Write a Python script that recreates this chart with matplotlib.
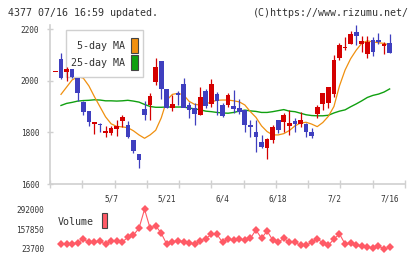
import numpy as np
import pandas as pd
import matplotlib
matplotlib.use("Agg")
import matplotlib.pyplot as plt
from matplotlib.patches import Rectangle

# ---------------- data ----------------
# trading days (index -1 .. 59)
holidays = ["2025-04-29", "2025-05-05", "2025-05-06"]
days = [d for d in pd.bdate_range("2025-04-18", "2025-07-16") if d.strftime("%Y-%m-%d") not in holidays]
date_labels = ["5/7", "5/21", "6/4", "6/18", "7/2", "7/16"]

opens = [2035, 2083, 2034, 2046, 2009, 1919, 1883, 1834, 1834, 1796, 1799,
         1814, 1845, 1828, 1770, 1715, 1890, 1906, 1996, 2077, 1966,
         1893, 1953, 1986, 1906, 1893, 1867, 1961, 1910, 1948, 1906,
         1906, 1903, 1893, 1886, 1828, 1800, 1764, 1741, 1770, 1848,
         1841, 1826, 1844, 1832, 1832, 1803, 1870, 1910, 1912, 1948,
         2089, 2125, 2142, 2188, 2141, 2102, 2157, 2157, 2133, 2144]
highs = [2035, 2106, 2052, 2046, 2009, 1923, 1884, 1840, 1836, 1824, 1825,
         1848, 1867, 1844, 1770, 1716, 1921, 1951, 2086, 2077, 1968,
         1945, 1960, 2009, 1916, 1912, 1977, 1968, 2006, 1957, 1912,
         1954, 1964, 1929, 1886, 1848, 1848, 1790, 1779, 1828, 1848,
         1874, 1886, 1857, 1877, 1835, 1818, 1906, 1954, 1977, 2099,
         2144, 2168, 2192, 2215, 2174, 2173, 2170, 2183, 2148, 2179]
lows = [2035, 2006, 2000, 2009, 1921, 1867, 1826, 1792, 1800, 1782, 1790,
        1784, 1822, 1779, 1721, 1663, 1848, 1848, 1983, 1929, 1893,
        1884, 1905, 1899, 1857, 1828, 1867, 1895, 1899, 1867, 1861,
        1899, 1874, 1870, 1803, 1783, 1725, 1741, 1697, 1757, 1796,
        1803, 1790, 1803, 1822, 1783, 1777, 1854, 1886, 1895, 1938,
        2080, 2119, 2142, 2140, 2112, 2089, 2097, 2141, 2102, 2108]
closes = [2035, 2012, 2044, 2015, 1954, 1877, 1841, 1839, 1828, 1805, 1817,
          1826, 1859, 1783, 1728, 1693, 1867, 1941, 2052, 1966, 1895,
          1910, 1946, 1895, 1886, 1871, 1938, 1903, 1987, 1921, 1865,
          1945, 1890, 1880, 1828, 1822, 1783, 1745, 1774, 1819, 1809,
          1867, 1837, 1832, 1848, 1800, 1787, 1899, 1954, 1977, 2080,
          2138, 2130, 2179, 2174, 2154, 2151, 2112, 2148, 2142, 2108]

# moving averages (index 0 .. 59)
ma5 = [1947, 1975, 2003, 2015, 2010, 1980, 1938, 1899, 1860, 1833,
       1823, 1821, 1818, 1806, 1790, 1777, 1790, 1808, 1856, 1925,
       1947, 1951, 1945, 1920, 1908, 1906, 1910, 1918, 1924, 1925,
       1925, 1922, 1918, 1906, 1880, 1858, 1825, 1803, 1790, 1790,
       1795, 1807, 1825, 1836, 1839, 1832, 1822, 1838, 1862, 1900,
       1980, 2041, 2085, 2118, 2145, 2154, 2150, 2147, 2144, 2138]
ma25 = [1904, 1912, 1916, 1921, 1923, 1924, 1926, 1925, 1922, 1922,
        1921, 1922, 1924, 1921, 1917, 1908, 1900, 1897, 1897, 1898,
        1898, 1898, 1898, 1894, 1891, 1887, 1882, 1880, 1877, 1875,
        1874, 1877, 1882, 1886, 1883, 1881, 1877, 1877, 1880, 1884,
        1888, 1882, 1880, 1874, 1868, 1865, 1864, 1864, 1866, 1875,
        1882, 1887, 1899, 1910, 1922, 1935, 1943, 1948, 1956, 1968]

volume = [55000, 57500, 57500, 66500, 89000, 68800, 71000, 75600, 55300, 80000,
          75600, 71000, 102600, 118400, 163500, 292000, 163500, 181500, 129700, 55300,
          71000, 80000, 73300, 66500, 57500, 80000, 93600, 122900, 122900, 68800,
          90000, 84600, 89000, 84600, 95900, 152200, 95900, 145500, 84600, 68800,
          95900, 68800, 68800, 48500, 48500, 68800, 91400, 66500, 48500, 91400,
          125200, 57500, 62000, 48500, 44000, 35000, 32700, 44000, 23700, 35000]

# ---------------- style ----------------
W, H = 420, 259
RED = "#d40000"
BLUE = "#3f3fbf"
ORANGE = "#f0900f"
GREEN = "#10a010"
VOLC = "#ff5a66"
AXC = "#d0d0d0"
TXT = "#333333"
MONO = "DejaVu Sans Mono"

def fx(px):
    return px / W

def fy(py):
    return 1 - py / H

fig = plt.figure(figsize=(W / 100, H / 100), dpi=100)
fig.patch.set_facecolor("white")

xlim = (-1.975, 61.76)

# ---------------- main price axes ----------------
ax = fig.add_axes([fx(50), fy(184), fx(405) - fx(50), fy(25) - fy(184)])
ax.set_xlim(*xlim)
ax.set_ylim(1600, 2215.5)
for s in ["top", "right"]:
    ax.spines[s].set_visible(False)
for s in ["left", "bottom"]:
    ax.spines[s].set_color(AXC)
    ax.spines[s].set_linewidth(1.2)

xs = np.arange(-1, len(opens) - 1)
for x, o, h, l, c in zip(xs, opens, highs, lows, closes):
    col = RED if c >= o else BLUE
    ax.vlines(x, l, h, color=col, lw=0.9, zorder=3)
    bot = min(o, c)
    ht = max(abs(c - o), 3.0)
    ax.bar(x, ht, bottom=bot, width=0.84, color=col, lw=0, zorder=4)

xm = np.arange(len(ma5))
ax.plot(xm, ma25, color=GREEN, lw=1.0, zorder=1.5)
ax.plot(xm, ma5, color=ORANGE, lw=0.9, zorder=1.6)

ax.set_yticks([1600, 1800, 2000, 2200])
ax.set_yticklabels(["1600", "1800", "2000", "2200"])
ax.tick_params(axis="y", direction="inout", length=4.75, width=1, color=AXC,
               pad=5.3, labelsize=5.6, labelcolor=TXT)
ax.set_xticks(np.linspace(xlim[0], xlim[1], 12))
ax.set_xticklabels([])
ax.tick_params(axis="x", which="major", direction="inout", length=5.8, width=1, color=AXC)
label_pos = [i - 1 for i, d in enumerate(days) if f"{d.month}/{d.day}" in date_labels]
ax.set_xticks(label_pos, minor=True)
ax.set_xticklabels(date_labels, minor=True)
ax.tick_params(axis="x", which="minor", length=0, pad=7.5, labelsize=5.6, labelcolor=TXT)
for t in ax.get_yticklabels() + ax.get_xticklabels(minor=True):
    t.set_family(MONO)

# legend box of main chart (above the MA lines, below the candles)
ax.add_patch(Rectangle((fx(65.7), fy(77.3)), fx(143.3) - fx(65.7), fy(30) - fy(77.3),
                       transform=fig.transFigure, facecolor="white", edgecolor=AXC,
                       lw=1, zorder=2))
fig.text(fx(125), fy(46), "5-day MA", family=MONO, size=7.2, color=TXT, ha="right", va="center")
fig.text(fx(125), fy(62.5), "25-day MA", family=MONO, size=7.2, color=TXT, ha="right", va="center")
fig.patches.append(Rectangle((fx(131), fy(53)), fx(137.7) - fx(131), fy(37.5) - fy(53),
                             transform=fig.transFigure, facecolor=ORANGE, edgecolor="#444444", lw=0.8))
fig.patches.append(Rectangle((fx(131), fy(69.5)), fx(137.7) - fx(131), fy(54.5) - fy(69.5),
                             transform=fig.transFigure, facecolor=GREEN, edgecolor="#444444", lw=0.8))

# ---------------- volume axes ----------------
vmin, vmax = min(volume), max(volume)
axv = fig.add_axes([fx(50), fy(253), fx(405) - fx(50), fy(205) - fy(253)])
axv.set_xlim(*xlim)
per_px = (vmax - vmin) / 39.7
axv.set_ylim(vmin - 4 * per_px, vmax + 4.3 * per_px)
for s in axv.spines.values():
    s.set_visible(False)
axv.set_xticks([])
axv.plot(xm, volume, color=VOLC, lw=0.8, marker="D", markersize=3.8,
         markeredgewidth=0, markerfacecolor=VOLC)
vt = [vmin, (vmin + vmax) / 2, vmax]
axv.set_yticks(vt)
axv.set_yticklabels([f"{int(v)}" for v in vt])
axv.tick_params(axis="y", length=0, pad=4.3, labelsize=5.6, labelcolor=TXT)
for t in axv.get_yticklabels():
    t.set_family(MONO)

fig.text(fx(58), fy(221.7), "Volume", family=MONO, size=7.2, color=TXT, ha="left", va="center")
fig.patches.append(Rectangle((fx(101.7), fy(228)), fx(107.3) - fx(101.7), fy(213) - fy(228),
                             transform=fig.transFigure, facecolor=VOLC, edgecolor="#444444", lw=0.8))

# ---------------- header ----------------
fig.text(fx(8), fy(13.3), "4377 07/16 16:59 updated.", family=MONO, size=7.2, color=TXT,
         ha="left", va="center")
fig.text(fx(409), fy(13.3), "(C)https://www.rizumu.net/", family=MONO, size=7.2, color=TXT,
         ha="right", va="center")

fig.savefig("out.png", dpi=100)
